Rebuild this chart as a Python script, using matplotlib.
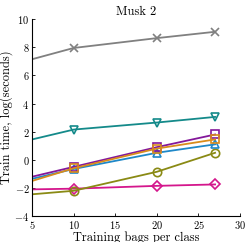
import matplotlib
matplotlib.use("Agg")
import matplotlib.pyplot as plt

plt.rcParams['font.family'] = 'serif'
plt.rcParams['font.serif'] = ['cmr10', 'DejaVu Serif']
plt.rcParams['mathtext.fontset'] = 'cm'
plt.rcParams['axes.formatter.use_mathtext'] = True

bags = [5, 10, 20, 27]
gray_x = [7.15, 7.95, 8.65, 9.1]
teal_tri = [1.45, 2.15, 2.65, 3.05]
purple_sq = [-1.2, -0.5, 0.9, 1.8]
orange_sq = [-1.5, -0.6, 0.8, 1.45]
blue_tri = [-1.35, -0.65, 0.5, 1.1]
olive_circ = [-2.45, -2.2, -0.85, 0.5]
magenta_dia = [-2.1, -2.05, -1.85, -1.75]

fig = plt.figure(figsize=(2.49, 2.42), dpi=100)
ax = fig.add_axes([0.129, 0.107, 0.835, 0.814])

series = [
    (gray_x, '#808080', 'x'),
    (teal_tri, '#148a8a', 'v'),
    (magenta_dia, '#d4168c', 'D'),
    (olive_circ, '#8a8a14', 'o'),
    (blue_tri, '#1f88c8', '^'),
    (purple_sq, '#84189a', 's'),
    (orange_sq, '#d98c1c', 's'),
]
for vals, c, m in series:
    ms = 5 if m == 'D' else 6
    ax.plot(bags, vals, color=c, marker=m, markevery=[1, 2, 3], lw=1.3,
            markersize=ms, markerfacecolor='none', markeredgewidth=1.2)

ax.set_xlim(5, 30)
ax.set_ylim(-4, 10)
ax.set_xticks([5, 10, 15, 20, 25, 30])
ax.set_yticks([-4, -2, 0, 2, 4, 6, 8, 10])
ax.spines['top'].set_visible(False)
ax.spines['right'].set_visible(False)
ax.tick_params(direction='in', labelsize=7.5, length=2.5, width=0.6, pad=2)
ax.set_xlabel("Training bags per class", fontsize=9, labelpad=0)
ax.set_ylabel("Train time, log(seconds)", fontsize=9, labelpad=1)
ax.set_title("Musk 2", fontsize=9, pad=3)

fig.savefig("out.png", dpi=100)
